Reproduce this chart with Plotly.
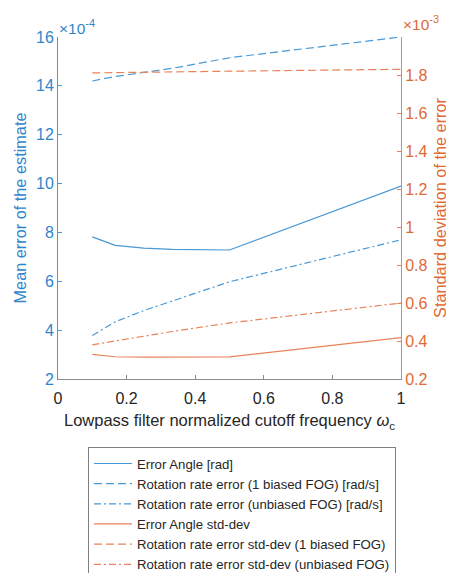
import plotly.graph_objects as go

# Data
cutoff = [0.1, 1/6, 0.25, 1/3, 0.5, 1.0]

# Mean error (x 1e-4), left axis
angle_mean = [7.82, 7.47, 7.36, 7.31, 7.28, 9.9]
rate_biased_mean = [14.2, 14.38, 14.55, 14.72, 15.15, 16.0]
rate_unbiased_mean = [3.78, 4.34, 4.8, 5.2, 5.98, 7.7]

# Std-dev (x 1e-3), right axis
angle_std = [0.33, 0.317, 0.315, 0.315, 0.316, 0.418]
rate_biased_std = [1.811, 1.812, 1.814, 1.816, 1.82, 1.83]
rate_unbiased_std = [0.38, 0.40, 0.425, 0.45, 0.495, 0.60]

left_ticks = [2, 4, 6, 8, 10, 12, 14, 16]
right_ticks = [0.2, 0.4, 0.6, 0.8, 1.0, 1.2, 1.4, 1.6, 1.8]
right_ticklabels = ["0.2", "0.4", "0.6", "0.8", "1", "1.2", "1.4", "1.6", "1.8"]
x_ticks = [0, 0.2, 0.4, 0.6, 0.8, 1]
x_ticklabels = ["0", "0.2", "0.4", "0.6", "0.8", "1"]

BLUE_L = "#4A98D4"
ORANGE_L = "#E88258"
BLUE_T = "#2F86CC"
ORANGE_T = "#E06A35"
FONT = "Liberation Sans, Arial, sans-serif"
DASH = "8px,4px"
DASHDOT = "7px,3px,2px,3px"

fig = go.Figure()
fig.add_trace(go.Scatter(x=cutoff, y=angle_mean, mode="lines", name="Error Angle [rad]",
                         line=dict(color=BLUE_L, width=1.2), yaxis="y"))
fig.add_trace(go.Scatter(x=cutoff, y=rate_biased_mean, mode="lines",
                         name="Rotation rate error (1 biased FOG) [rad/s]",
                         line=dict(color=BLUE_L, width=1.2, dash=DASH), yaxis="y"))
fig.add_trace(go.Scatter(x=cutoff, y=rate_unbiased_mean, mode="lines",
                         name="Rotation rate error (unbiased FOG) [rad/s]",
                         line=dict(color=BLUE_L, width=1.2, dash=DASHDOT), yaxis="y"))
fig.add_trace(go.Scatter(x=cutoff, y=angle_std, mode="lines", name="Error Angle std-dev",
                         line=dict(color=ORANGE_L, width=1.2), yaxis="y2"))
fig.add_trace(go.Scatter(x=cutoff, y=rate_biased_std, mode="lines",
                         name="Rotation rate error std-dev (1 biased FOG)",
                         line=dict(color=ORANGE_L, width=1.2, dash=DASH), yaxis="y2"))
fig.add_trace(go.Scatter(x=cutoff, y=rate_unbiased_std, mode="lines",
                         name="Rotation rate error std-dev (unbiased FOG)",
                         line=dict(color=ORANGE_L, width=1.2, dash=DASHDOT), yaxis="y2"))

fig.update_layout(
    width=454, height=573,
    margin=dict(l=50, r=61, t=29, b=202, autoexpand=False),
    paper_bgcolor="white", plot_bgcolor="white",
    font=dict(family=FONT, size=15, color="#262626"),
    xaxis=dict(range=[0, 1], tickvals=x_ticks, ticktext=x_ticklabels, automargin=False,
               showgrid=False, zeroline=False, showline=True, linecolor="#8C8C8C",
               ticks="inside", ticklen=4, tickcolor="#8C8C8C", ticklabelstandoff=5,
               tickfont=dict(size=16, color="#262626"),
               title=dict(text="Lowpass filter normalized cutoff frequency <i>ω</i><sub>c</sub>",
                          font=dict(size=16.5, color="#262626"), standoff=8)),
    yaxis=dict(range=[2, 16], tickvals=left_ticks, showgrid=False, zeroline=False,
               automargin=False,
               showline=True, linecolor=BLUE_L, ticks="inside", ticklen=4, tickcolor=BLUE_L,
               tickfont=dict(size=16, color=BLUE_T),
               title=dict(text="Mean error of the estimate",
                          font=dict(size=16.3, color=BLUE_T), standoff=5)),
    yaxis2=dict(range=[0.2, 2.0], tickvals=right_ticks, ticktext=right_ticklabels,
                overlaying="y", side="right", showgrid=False, zeroline=False,
                automargin=False,
                showline=True, linecolor=ORANGE_L, ticks="inside", ticklen=4, tickcolor=ORANGE_L,
                tickfont=dict(size=16, color=ORANGE_T),
                title=dict(text="Standard deviation of the error",
                           font=dict(size=16.3, color=ORANGE_T), standoff=8)),
    legend=dict(x=0.0875, y=-0.2, xanchor="left", yanchor="top",
                bordercolor="#7F7F7F", borderwidth=1, bgcolor="white",
                font=dict(size=13.2, color="#262626"), tracegroupgap=0,
                itemwidth=38),
    showlegend=True,
)

fig.add_annotation(text="×10<sup>-4</sup>", xref="paper", yref="paper", x=0.0, y=1.0,
                   xanchor="left", yanchor="bottom", showarrow=False,
                   font=dict(size=15.5, color=BLUE_T), xshift=-1, yshift=-2)
fig.add_annotation(text="×10<sup>-3</sup>", xref="paper", yref="paper", x=1.0, y=1.0,
                   xanchor="left", yanchor="bottom", showarrow=False,
                   font=dict(size=15.5, color=ORANGE_T), xshift=0, yshift=2)

fig.write_html("out.html")
